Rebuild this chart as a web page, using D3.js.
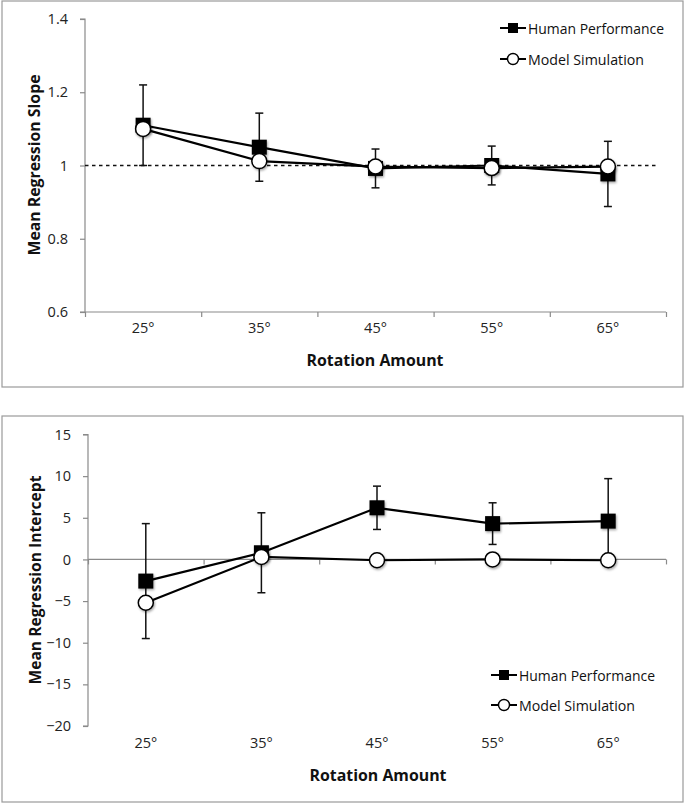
<!DOCTYPE html>
<html><head><meta charset="utf-8">
<script src="https://cdn.jsdelivr.net/npm/d3@7"></script>
<style>
body{margin:0;background:#fff;}
svg{display:block;}
</style></head>
<body>
<svg id="c" width="685" height="804"></svg>
<script>
// ---- data ----
const categories = ["25°","35°","45°","55°","65°"];
const seriesNames = ["Human Performance","Model Simulation"];

const slopeHuman    = [1.11, 1.05, 0.992, 1.0, 0.977];
const slopeHumanErr = [0.11, 0.093, 0.053, 0.053, 0.089];
const slopeModel    = [1.10, 1.012, 0.997, 0.993, 0.997];
const slopeTicks    = [0.6, 0.8, 1, 1.2, 1.4];
const slopeRef      = 1;

const interceptHuman    = [-2.6, 0.8, 6.2, 4.3, 4.6];
const interceptHumanErr = [6.9, 4.8, 2.6, 2.5, 5.1];
const interceptModel    = [-5.2, 0.3, -0.1, 0.0, -0.1];
const interceptTicks    = [-20, -15, -10, -5, 0, 5, 10, 15];

const FONT = "'Open Sans','Liberation Sans',sans-serif";
const svg = d3.select("#c");
const defs = svg.append("defs");
defs.append("filter").attr("id","sh").attr("x","-50%").attr("y","-50%").attr("width","200%").attr("height","200%")
  .append("feDropShadow").attr("dx",1).attr("dy",1.5).attr("stdDeviation",1.2).attr("flood-color","#000").attr("flood-opacity",0.35);

function styleTicks(sel){
  sel.attr("font-family",FONT).attr("font-size",14.5);
  sel.selectAll(".tick text").attr("fill","#222");
}

function panel(cfg){
  const g = svg.append("g");
  g.append("rect").attr("x",cfg.frame[0]).attr("y",cfg.frame[1])
    .attr("width",cfg.frame[2]).attr("height",cfg.frame[3])
    .attr("fill","none").attr("stroke","#9a9a9a").attr("stroke-width",1.2);

  const x = d3.scaleBand().domain(categories).range([cfg.x0, cfg.x1]);
  const xi = d3.scaleLinear().domain([0, categories.length]).range([cfg.x0, cfg.x1]);
  const y = d3.scaleLinear().domain([cfg.ticks[0], cfg.ticks[cfg.ticks.length-1]]).range([cfg.yb, cfg.yt]);

  const ya = g.append("g").attr("transform",`translate(${cfg.x0},0)`)
    .call(d3.axisLeft(y).tickValues(cfg.ticks).tickSize(5).tickPadding(cfg.ypad).tickFormat(d3.format("")));
  ya.selectAll("path,line").attr("stroke","#8a8a8a").attr("stroke-width",1.2);
  ya.select(".domain").attr("d",`M-5,${cfg.yb}H0V${cfg.yt}H-5`);
  styleTicks(ya);

  const xa = g.append("g").attr("transform",`translate(0,${y(cfg.xAxisAt)})`)
    .call(d3.axisBottom(xi).tickValues(d3.range(categories.length+1)).tickSize(5).tickFormat(""));
  xa.selectAll("path,line").attr("stroke","#8a8a8a").attr("stroke-width",1.2);
  xa.select(".domain").attr("d",`M${cfg.x0},0H${cfg.x1}`);

  const xl = g.append("g").attr("transform",`translate(0,${cfg.xLabelY})`)
    .call(d3.axisBottom(x).tickSize(0).tickPadding(0));
  xl.select(".domain").remove();
  styleTicks(xl);

  if (cfg.ref !== undefined){
    g.append("line").attr("x1",cfg.x0).attr("x2",cfg.refEnd)
      .attr("y1",y(cfg.ref)).attr("y2",y(cfg.ref))
      .attr("stroke","#111").attr("stroke-width",1.3).attr("stroke-dasharray","3.5,3.5");
  }

  const cx = d => x(d) + x.bandwidth()/2;
  const eb = g.append("g").attr("stroke","#111").attr("stroke-width",1.5);
  categories.forEach((c,i)=>{
    const v = cfg.human[i], e = cfg.err[i];
    eb.append("line").attr("x1",cx(c)).attr("x2",cx(c)).attr("y1",y(v+e)).attr("y2",y(v-e));
    eb.append("line").attr("x1",cx(c)-4).attr("x2",cx(c)+4).attr("y1",y(v+e)).attr("y2",y(v+e));
    eb.append("line").attr("x1",cx(c)-4).attr("x2",cx(c)+4).attr("y1",y(v-e)).attr("y2",y(v-e));
  });

  const line = d3.line().x((d,i)=>cx(categories[i])).y(d=>y(d));
  g.append("path").datum(cfg.human).attr("d",line).attr("fill","none").attr("stroke","#000").attr("stroke-width",2.2);
  g.append("path").datum(cfg.model).attr("d",line).attr("fill","none").attr("stroke","#000").attr("stroke-width",2.2);

  const ms = 15;
  g.append("g").selectAll("rect").data(cfg.human).join("rect")
    .attr("x",(d,i)=>cx(categories[i])-ms/2).attr("y",d=>y(d)-ms/2)
    .attr("width",ms).attr("height",ms).attr("fill","#000").attr("filter","url(#sh)");
  g.append("g").selectAll("circle").data(cfg.model).join("circle")
    .attr("cx",(d,i)=>cx(categories[i])).attr("cy",d=>y(d)).attr("r",7.5)
    .attr("fill","#fff").attr("stroke","#000").attr("stroke-width",1.5).attr("filter","url(#sh)");

  g.append("text").attr("font-family",FONT).attr("font-weight","bold").attr("fill","#111").attr("font-size",16)
    .attr("transform",`translate(${cfg.ytX},${cfg.ytY}) rotate(-90)`)
    .attr("text-anchor","middle").attr("dominant-baseline","central")
    .attr("textLength",cfg.ytLen).attr("lengthAdjust","spacingAndGlyphs").text(cfg.yTitle);
  g.append("text").attr("font-family",FONT).attr("font-weight","bold").attr("fill","#111").attr("font-size",16)
    .attr("x",cfg.xtX).attr("y",cfg.xtY).attr("text-anchor","middle").attr("dominant-baseline","central")
    .attr("textLength",137).attr("lengthAdjust","spacingAndGlyphs").text("Rotation Amount");

  const lg = g.append("g");
  seriesNames.forEach((name,i)=>{
    const ly = cfg.legY[i];
    lg.append("line").attr("x1",cfg.legX-13).attr("x2",cfg.legX+13).attr("y1",ly).attr("y2",ly)
      .attr("stroke","#000").attr("stroke-width",2);
    if (i===0) lg.append("rect").attr("x",cfg.legX-5).attr("y",ly-5).attr("width",10).attr("height",10).attr("fill","#000");
    else lg.append("circle").attr("cx",cfg.legX).attr("cy",ly).attr("r",5.5).attr("fill","#fff").attr("stroke","#000").attr("stroke-width",1.4);
    lg.append("text").attr("font-family",FONT).attr("font-size",14).attr("fill","#111")
      .attr("x",cfg.legX+15).attr("y",ly).attr("dominant-baseline","central")
      .attr("textLength",i===0?136:116).attr("lengthAdjust","spacingAndGlyphs").text(name);
  });
}

panel({
  frame:[2,1,681,386], x0:85, x1:666, yt:19, yb:312,
  ticks:slopeTicks, ypad:12, xAxisAt:0.6, xLabelY:323,
  ref:slopeRef, refEnd:656,
  human:slopeHuman, err:slopeHumanErr, model:slopeModel,
  yTitle:"Mean Regression Slope", ytX:34, ytY:165, ytLen:181,
  xtX:375, xtY:360,
  legX:513, legY:[28,59]
});

panel({
  frame:[2,416,681,386], x0:88, x1:666, yt:434.5, yb:726,
  ticks:interceptTicks, ypad:12, xAxisAt:0, xLabelY:738,
  human:interceptHuman, err:interceptHumanErr, model:interceptModel,
  yTitle:"Mean Regression Intercept", ytX:35, ytY:580, ytLen:209,
  xtX:378, xtY:775,
  legX:504, legY:[675,705]
});
</script>
</body></html>
